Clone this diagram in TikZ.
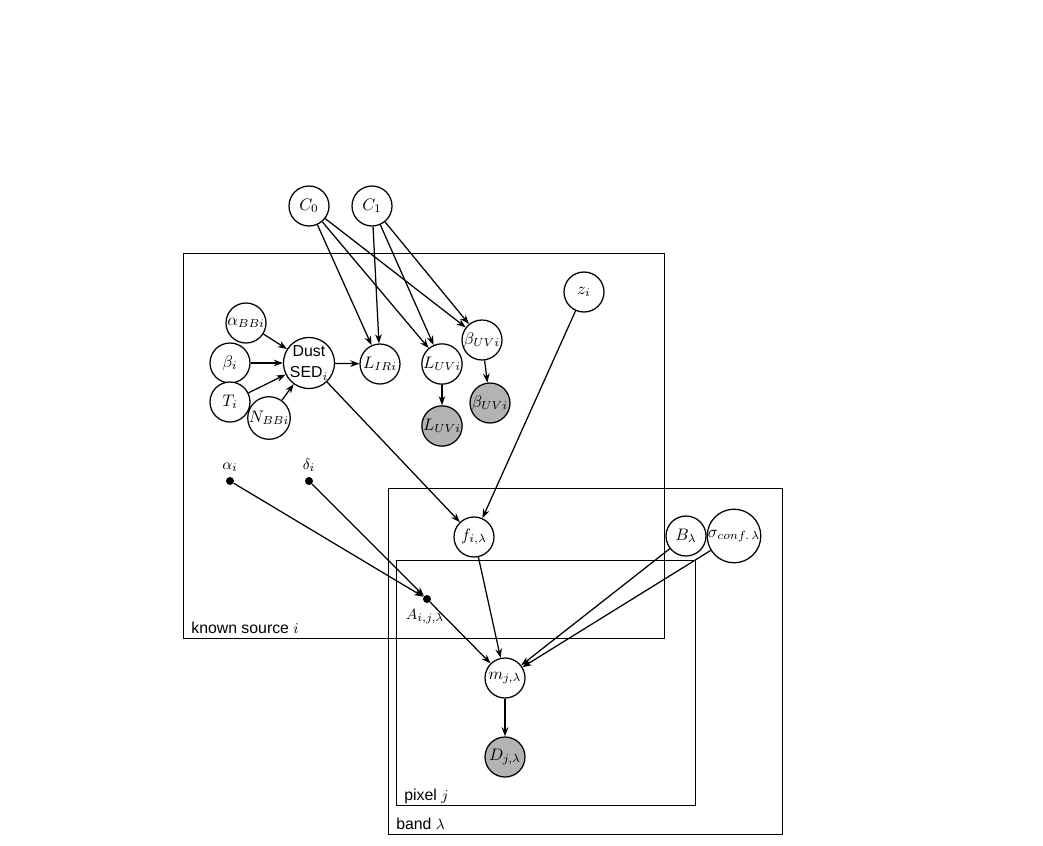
\documentclass[tikz,border=0pt]{standalone}
\usepackage{fontspec}
\setmainfont{Liberation Sans}
\usetikzlibrary{arrows.meta}
\definecolor{obsgray}{HTML}{B3B3B3}
\begin{document}
\begin{tikzpicture}[x=0.6pt,y=-0.6pt,
  var/.style={circle,draw,line width=0.75pt,fill=white,minimum size=24pt,inner sep=0pt,
              font=\fontsize{10}{11}\selectfont},
  obs/.style={var,fill=obsgray},
  dot/.style={circle,fill=black,inner sep=0pt,minimum size=4.8pt},
  edge/.style={-{Stealth[length=5.5pt,width=4pt]},line width=0.75pt},
  plate/.style={draw,line width=0.55pt},
  lbl/.style={font=\fontsize{9.5}{11}\selectfont,inner sep=0pt}]
\useasboundingbox (0,0) rectangle (1043,846);

% plates
\draw[plate] (183,253) rectangle (664,638);
\draw[plate] (388,488) rectangle (782,834);
\draw[plate] (396,560) rectangle (695,805);
\node[lbl,anchor=base west] (pi) at (191,633) {known source $i$};
\node[lbl,anchor=base west] (pb) at (396,829) {band $\lambda$};
\node[lbl,anchor=base west] (pj) at (404,800) {pixel $j$};

% hyperparameters
\node[var] (c0) at (309,206) {$C_0$};
\node[var] (c1) at (372,206) {$C_1$};
\node[var] (z) at (584,292) {$z_i$};

% dust SED cluster
\node[var] (abb) at (246,323) {$\alpha_{BBi}$};
\node[var] (bi) at (230,363) {$\beta_i$};
\node[var] (ti) at (230,402) {$T_i$};
\node[var] (nbb) at (269,418) {$N_{BBi}$};
\node[var,minimum size=30pt,align=center,font=\fontsize{9.5}{12.5}\selectfont] (sed) at (309,363) {Dust\\SED$_i$};
\node[var] (lir) at (380,364) {$L_{IRi}$};
\node[var] (luv) at (442,364) {$L_{UVi}$};
\node[var] (buv) at (482,340) {$\beta_{UVi}$};
\node[obs] (luvo) at (442,426) {$L_{UVi}$};
\node[obs] (buvo) at (490,403) {$\beta_{UVi}$};

% positions
\node[dot] (al) at (230,481) {};
\node[dot] (de) at (309,481) {};
\node[lbl,anchor=base] (all) at (230,469) {$\alpha_i$};
\node[lbl,anchor=base] (del) at (309,469) {$\delta_i$};
\node[dot] (a) at (427,599) {};
\node[lbl,anchor=base] (alab) at (425,619) {$A_{i,j,\lambda}$};

% band / pixel variables
\node[var] (f) at (474,537) {$f_{i,\lambda}$};
\node[var] (b) at (686,536) {$B_\lambda$};
\node[var,minimum size=28pt] (s) at (734,536) {$\sigma_{conf.\,\lambda}$};
\node[var] (m) at (505,678) {$m_{j,\lambda}$};
\node[obs] (d) at (505,757) {$D_{j,\lambda}$};

% edges
\foreach \n in {abb,bi,ti,nbb} \draw[edge] (\n) -- (sed);
\draw[edge] (sed) -- (lir);
\foreach \n in {c0,c1} {
  \draw[edge] (\n) -- (lir);
  \draw[edge] (\n) -- (luv);
  \draw[edge] (\n) -- (buv);
}
\draw[edge] (luv) -- (luvo);
\draw[edge] (buv) -- (buvo);
\draw[edge] (sed) -- (f);
\draw[edge] (z) -- (f);
\draw[edge] (al) -- (a);
\draw[edge] (de) -- (a);
\draw[edge] (a) -- (m);
\draw[edge] (f) -- (m);
\draw[edge] (b) -- (m);
\draw[edge] (s) -- (m);
\draw[edge] (m) -- (d);
\end{tikzpicture}
\end{document}
